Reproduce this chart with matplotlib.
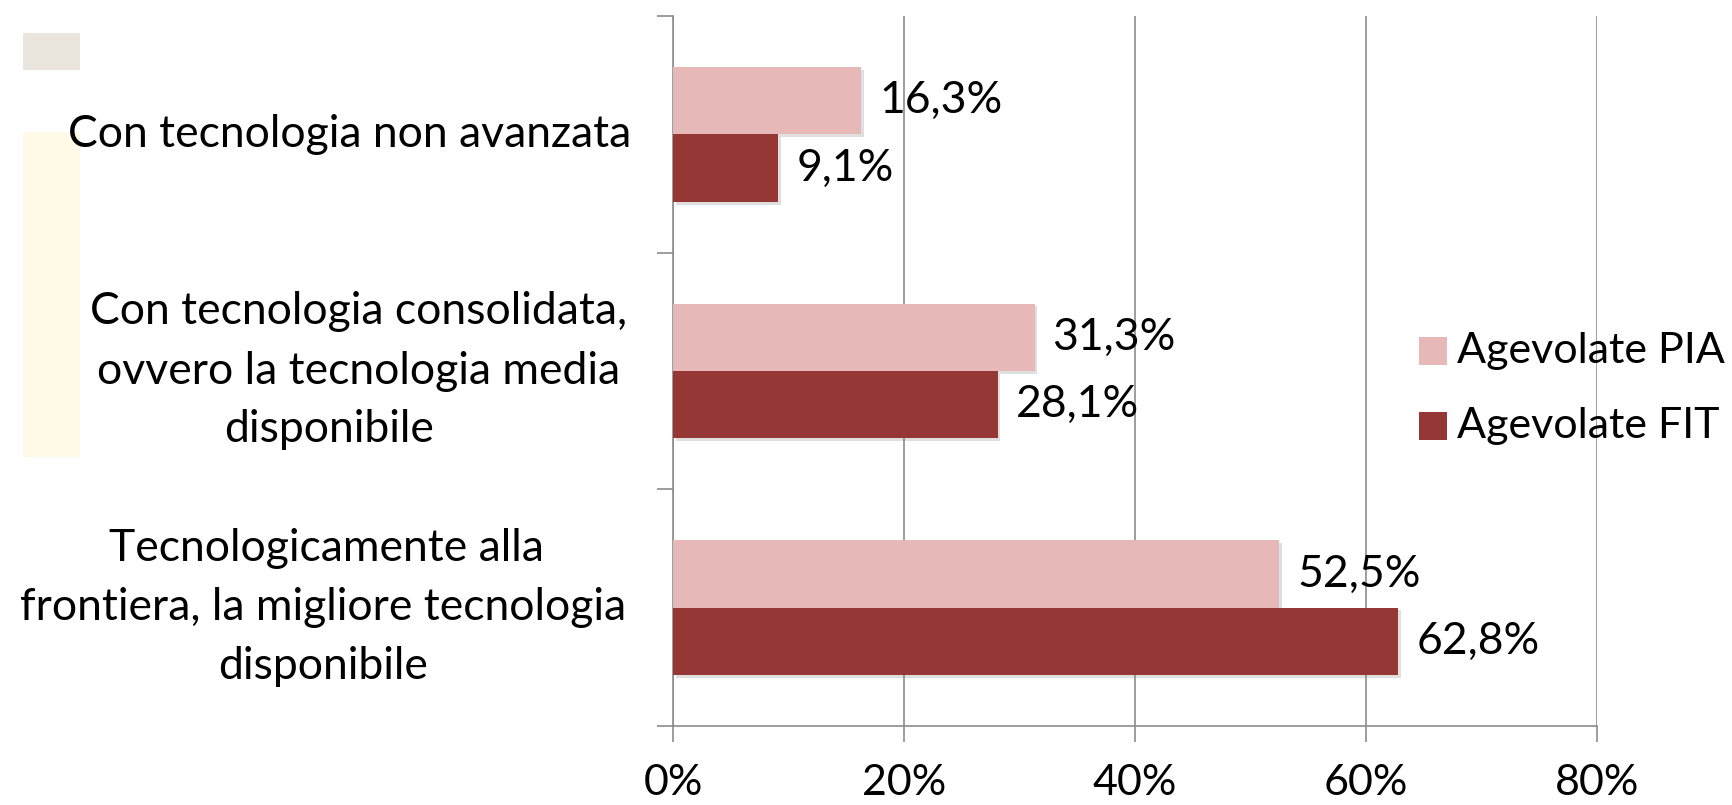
import matplotlib
matplotlib.use("Agg")
import matplotlib.pyplot as plt
import matplotlib.patheffects as pe
import matplotlib.transforms as mtransforms
from matplotlib.patches import Rectangle

# ---- data ----
categories = [
    ["Con tecnologia non avanzata"],
    ["Con tecnologia consolidata,", "ovvero la tecnologia media", "disponibile"],
    ["Tecnologicamente alla", "frontiera, la migliore tecnologia", "disponibile"],
]
series_names = ["Agevolate PIA", "Agevolate FIT"]
pia_values = [16.3, 31.3, 52.5]
fit_values = [9.1, 28.1, 62.8]
x_ticks = [0, 20, 40, 60, 80]
x_tick_labels = ["0%", "20%", "40%", "60%", "80%"]

colors = ["#E6B9B8", "#953735"]
grid_color = "#8C8C8C"
FONT = "Lato"
FS = 32
FS_SMALL = 31

W, H = 1733, 805
fig = plt.figure(figsize=(W / 100, H / 100), dpi=100)
fig.patch.set_facecolor("white")

def fx(px):
    return px / W

def fy(py):
    return 1 - py / H

ax = fig.add_axes([fx(673), fy(726), fx(1597) - fx(673), fy(16) - fy(726)])

ypos = list(range(len(categories)))
bh = 0.285
shadow = [pe.SimplePatchShadow(offset=(2, -2), shadow_rgbFace="#808080", alpha=0.25), pe.Normal()]
bars_pia = ax.barh([y - bh / 2 for y in ypos], pia_values, height=bh, color=colors[0], zorder=3)
bars_fit = ax.barh([y + bh / 2 for y in ypos], fit_values, height=bh, color=colors[1], zorder=3)
for b in list(bars_pia) + list(bars_fit):
    b.set_path_effects(shadow)

def fmt(v):
    return f"{v:.1f}".replace(".", ",") + "%"

for bars, vals in ((bars_pia, pia_values), (bars_fit, fit_values)):
    for b, v in zip(bars, vals):
        ax.annotate(fmt(v), xy=(v, b.get_y() + b.get_height() / 2), xytext=(13, 0),
                    textcoords="offset points", ha="left", va="center",
                    fontsize=FS, family=FONT, color="black", zorder=4)

ax.set_xlim(0, 80)
ax.set_ylim(len(categories) - 0.5, -0.5)
ax.set_xticks(x_ticks)
ax.set_xticklabels(x_tick_labels, fontsize=FS_SMALL, family=FONT)
ax.set_yticks([i - 0.5 for i in range(len(categories) + 1)])
ax.set_yticklabels([])
ax.tick_params(axis="x", direction="out", length=11.5, width=1.2, color=grid_color, pad=16)
ax.tick_params(axis="y", direction="out", length=11.5, width=1.2, color=grid_color)
ax.xaxis.grid(True, color=grid_color, linewidth=1.2, zorder=0)
ax.set_axisbelow(True)
for s in ("top", "right"):
    ax.spines[s].set_visible(False)
for s in ("left", "bottom"):
    ax.spines[s].set_color(grid_color)
    ax.spines[s].set_linewidth(1.2)

# category labels (per line, centred)
line_centers = [
    [350],
    [359, 359, 329],
    [326, 323, 323],
]
line_step = 59  # px
for yi, (lines, cx) in enumerate(zip(categories, line_centers)):
    n = len(lines)
    for li, (txt, x) in enumerate(zip(lines, cx)):
        off = (li - (n - 1) / 2) * line_step
        tr = mtransforms.blended_transform_factory(fig.transFigure, ax.transData) + \
            mtransforms.ScaledTranslation(0, -off / 100, fig.dpi_scale_trans)
        fig.text(fx(x), yi, txt, transform=tr, ha="center", va="center",
                 fontsize=FS, family=FONT, color="black")

# legend (manual)
leg_y = [351, 426]
for name, c, yy in zip(series_names, colors, leg_y):
    fig.patches.append(Rectangle((fx(1419), fy(yy + 14)), fx(28), 28 / H,
                                 transform=fig.transFigure, facecolor=c, edgecolor="none"))
    fig.text(fx(1457), fy(yy), name, ha="left", va="center", fontsize=FS_SMALL, family=FONT)

# decorative rectangles on the left
fig.patches.append(Rectangle((fx(23), fy(70)), fx(57), 37 / H, transform=fig.transFigure,
                             facecolor="#EAE6DD", edgecolor="none"))
fig.patches.append(Rectangle((fx(23), fy(457)), fx(57), 325 / H, transform=fig.transFigure,
                             facecolor="#FFF9E8", edgecolor="none"))

fig.savefig("out.png", dpi=100)
